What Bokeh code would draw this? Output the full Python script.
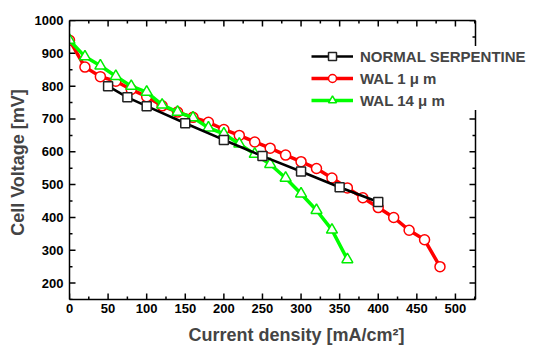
import numpy as np
from bokeh.plotting import figure
from bokeh.models import (Range1d, LinearAxis, SingleIntervalTicker, Legend, LegendItem,
                          CustomJSTickFormatter)
from bokeh.embed import file_html
from bokeh.resources import INLINE

# ---- data ----
normal_x = [50, 75, 100, 150, 200, 250, 300, 350, 400]
normal_y = [800, 766, 739, 687, 636, 587, 540, 492, 447]

wal1_x = [0, 20, 40, 60, 80, 100, 120, 140, 160, 180, 200, 220, 240, 260, 280,
          300, 320, 340, 360, 380, 400, 420, 440, 460, 480]
wal1_y = [940, 858, 829, 815, 790, 768, 740, 721, 705, 690, 668, 650, 630, 611, 590,
          570, 549, 520, 490, 460, 430, 400, 361, 332, 250]

wal14_x = [0, 20, 40, 60, 80, 100, 120, 140, 160, 180, 200, 220, 240, 260, 280,
           300, 320, 340, 360]
wal14_y = [940, 890, 862, 830, 800, 782, 743, 721, 704, 673, 655, 624, 593, 562, 520,
           472, 422, 362, 272]

labels = ["NORMAL SERPENTINE", "WAL 1 \u03bc m", "WAL 14 \u03bc m"]
x_title = "Current density  [mA/cm\u00b2]"
y_title = "Cell Voltage  [mV]"

# axis extents
X_MAX = 526
Y_MIN, Y_MAX = 150, 1000
X_STEP, Y_STEP = 50, 100

# layout (pixels)
W, H = 534, 347
LEFT, TOP, BOTTOM, RIGHT = 69, 20, 45, 6
AXIS_RIGHT_PX = 475          # where the right axis sits; legend may spill beyond it
FRAME_W = W - LEFT - RIGHT
X_VIEW = X_MAX * FRAME_W / (AXIS_RIGHT_PX - LEFT)
PX_X = FRAME_W / X_VIEW
MAJOR_PX, MINOR_PX = 6, 3

FONT = "Liberation Sans"

p = figure(width=W, height=H, x_range=Range1d(0, X_VIEW), y_range=Range1d(Y_MIN, Y_MAX),
           output_backend="svg", toolbar_location=None,
           min_border_left=LEFT, min_border_right=RIGHT, min_border_top=TOP,
           min_border_bottom=BOTTOM, x_axis_location=None, y_axis_location=None)
p.outline_line_color = None
p.xgrid.visible = False
p.ygrid.visible = False
p.background_fill_color = "white"
p.border_fill_color = "white"

blank = CustomJSTickFormatter(code="return ''")


def xticker():
    return SingleIntervalTicker(interval=X_STEP, num_minor_ticks=2)


def yticker():
    return SingleIntervalTicker(interval=Y_STEP, num_minor_ticks=2)


def style_axis(ax):
    ax.axis_line_width = 1.5
    ax.axis_line_color = "black"
    ax.major_tick_in = 0
    ax.major_tick_out = 0
    ax.minor_tick_in = 0
    ax.minor_tick_out = 0
    ax.major_label_text_font = FONT
    ax.major_label_text_font_style = "bold"
    ax.major_label_text_font_size = "13px"
    ax.major_label_text_color = "black"
    ax.axis_label_text_font = FONT
    ax.axis_label_text_font_style = "bold"
    ax.axis_label_text_font_size = "18px"


def edge_axis(ticker, **kw):
    """Unlabelled axis that only draws a frame edge (ticks kept invisible)."""
    ax = LinearAxis(ticker=ticker, formatter=blank, **kw)
    style_axis(ax)
    ax.major_tick_out = 6
    ax.major_tick_line_color = None
    ax.minor_tick_line_color = None
    ax.major_label_standoff = 0
    return ax


# labelled axes
xb = LinearAxis(ticker=xticker(), bounds=(0, X_MAX))
style_axis(xb)
xb.major_label_standoff = 4
xb.axis_label = x_title
xb.axis_label_standoff = 9
p.add_layout(xb, "below")

yl = LinearAxis(ticker=yticker())
style_axis(yl)
yl.major_label_standoff = 6
yl.axis_label = y_title
yl.axis_label_standoff = 4
p.add_layout(yl, "left")

# top and right frame edges
p.add_layout(edge_axis(xticker(), bounds=(0, X_MAX)), "above")
p.add_layout(edge_axis(yticker(), fixed_location=X_MAX), "right")

# inward tick marks (dash markers; the outer half is clipped at the frame edge)
x_major = np.arange(0, X_MAX + 1, X_STEP)
x_minor = np.arange(X_STEP / 2, X_MAX, X_STEP)
y_major = np.arange(200, Y_MAX + 1, Y_STEP)
y_minor = np.arange(Y_MIN, Y_MAX, Y_STEP)
y_minor = y_minor[(y_minor % Y_STEP) != 0]
tick_kw = dict(marker="dash", line_color="black", line_width=1.5)
for xs, ln in ((x_major, MAJOR_PX), (x_minor, MINOR_PX)):
    p.scatter(xs, [Y_MIN] * len(xs), size=2 * ln, angle=np.pi / 2, **tick_kw)
    p.scatter(xs, [Y_MAX] * len(xs), size=2 * ln, angle=np.pi / 2, **tick_kw)
for ys, ln in ((y_major, MAJOR_PX), (y_minor, MINOR_PX)):
    p.scatter([0] * len(ys), ys, size=2 * ln, angle=0, **tick_kw)
    p.scatter([X_MAX - ln / 2 / PX_X] * len(ys), ys, size=ln, angle=0, **tick_kw)

# series: red, green, black (drawing order)
r_line = p.line(wal1_x, wal1_y, line_color="#ff0000", line_width=3.5)
r_mark = p.scatter(wal1_x, wal1_y, marker="circle", size=10, line_color="#ff0000",
                   fill_color="white", line_width=1.5)
g_line = p.line(wal14_x, wal14_y, line_color="#00ff00", line_width=3.5)
g_mark = p.scatter(wal14_x, wal14_y, marker="triangle", size=11, line_color="#00ee00",
                   fill_color="white", line_width=1.5)
k_line = p.line(normal_x, normal_y, line_color="black", line_width=2.5)
k_mark = p.scatter(normal_x, normal_y, marker="square", size=9, line_color="#222222",
                   fill_color="white", line_width=1.5)

legend = Legend(items=[
    LegendItem(label=labels[0], renderers=[k_line, k_mark]),
    LegendItem(label=labels[1], renderers=[r_line, r_mark]),
    LegendItem(label=labels[2], renderers=[g_line, g_mark]),
], location=(242, 189))
legend.label_text_font = FONT
legend.label_text_font_style = "bold"
legend.label_text_font_size = "15px"
legend.glyph_width = 42
legend.glyph_height = 20
legend.label_height = 20
legend.spacing = 2
legend.padding = 4
legend.margin = 0
legend.label_standoff = 7
legend.border_line_color = None
legend.background_fill_color = "white"
legend.background_fill_alpha = 1.0
p.add_layout(legend, "center")

open("out.html", "w").write(file_html(p, INLINE))
